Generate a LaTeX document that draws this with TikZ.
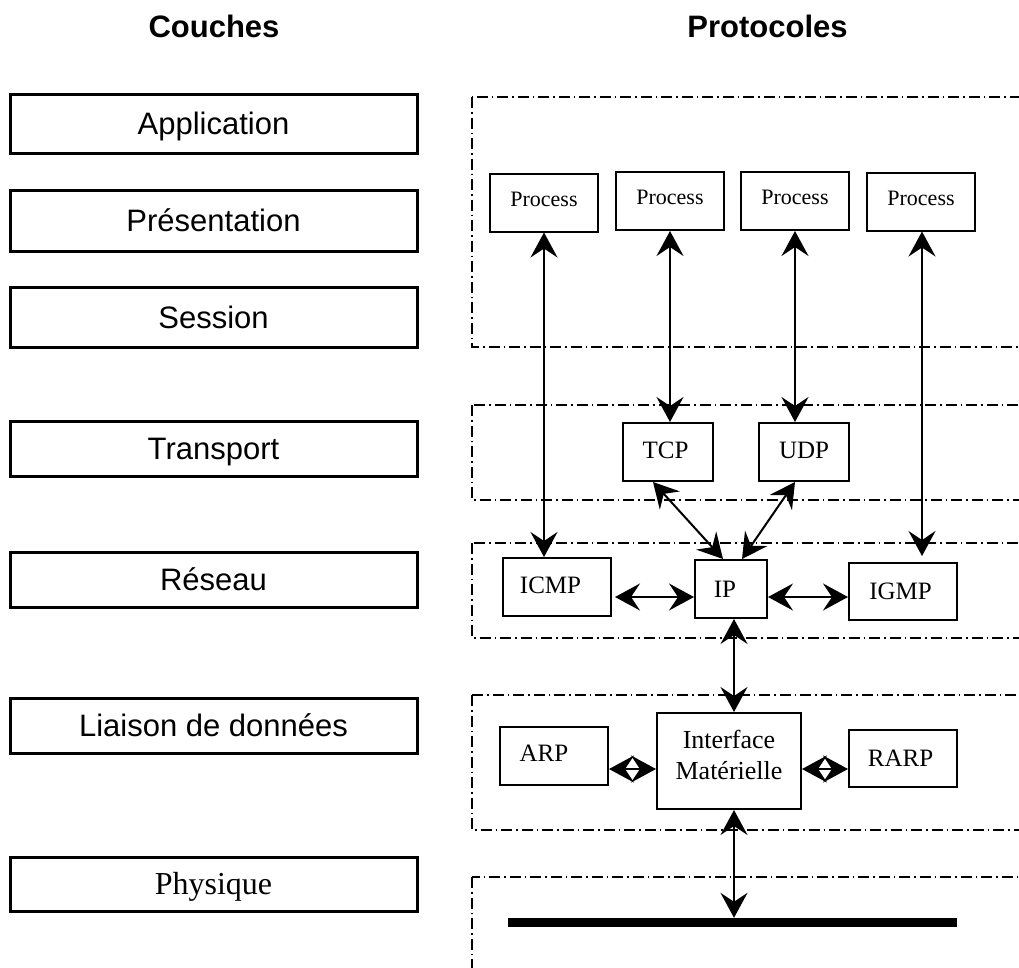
\documentclass[tikz,border=0pt]{standalone}
\usepackage{fontspec}
\setmainfont{Liberation Serif}
\setsansfont{Liberation Sans}
\usetikzlibrary{arrows.meta}

\tikzset{
  layerbox/.style={draw, line width=3pt, minimum width=407pt, inner sep=0pt,
    font=\sffamily\fontsize{31}{37}\selectfont, text height=22pt, text depth=0pt},
  protobox/.style={draw, line width=2pt, inner sep=0pt,
    font=\fontsize{25}{30}\selectfont, text height=16.5pt, text depth=0pt},
  procbox/.style={protobox, minimum width=108pt, minimum height=58pt,
    font=\fontsize{22}{26}\selectfont, text height=14.6pt, text depth=7pt},
  header/.style={inner sep=0pt, font=\sffamily\bfseries\fontsize{31}{37}\selectfont,
    text height=22pt, text depth=0pt},
  nudge/.style={execute at begin node={\hspace*{#1}}},
  frame/.style={line width=1.1pt, dash pattern=on 11pt off 4pt on 1.5pt off 4pt},
  tip/.tip={Stealth[length=25pt,width=27pt,inset=9pt]},
  link/.style={line width=2pt, tip-tip}
}

\begin{document}
\begin{tikzpicture}[x=1pt,y=-1pt]
\clip (0,0) rectangle (1019,967);

% column headings
\node[header] (hcouches) at (214,26) {Couches};
\node[header] (hproto) at (767.5,26) {Protocoles};

% OSI layers
\node[layerbox, minimum height=59pt] (app)  at (213.5,123.5) {Application};
\node[layerbox, minimum height=61pt] (pres) at (213.5,220.5) {Présentation};
\node[layerbox, minimum height=60pt] (sess) at (213.5,317) {Session};
\node[layerbox, minimum height=55pt] (trans) at (213.5,448.5) {Transport};
\node[layerbox, minimum height=55pt] (res)  at (213.5,579.5) {Réseau};
\node[layerbox, minimum height=55pt] (liai) at (213.5,725.5) {Liaison de données};
\node[layerbox, minimum height=54pt, font=\rmfamily\fontsize{32}{38}\selectfont,
      text height=21pt] (phys) at (213.5,884) {Physique};

% dash-dotted layer frames on the protocol side
\draw[frame] (472,97)  rectangle (1060,347);
\draw[frame] (472,405) rectangle (1060,500);
\draw[frame] (472,543) rectangle (1060,638);
\draw[frame] (472,695) rectangle (1060,830);
\draw[frame] (472,877) rectangle (1060,1000);

% application processes
\node[procbox] (p1) at (544,202.5) {Process};
\node[procbox] (p2) at (670,201) {Process};
\node[procbox] (p3) at (795,201) {Process};
\node[procbox] (p4) at (921,201.5) {Process};

% transport
\node[protobox, minimum width=90pt, minimum height=58pt, nudge=-5pt, text depth=4pt] (tcp) at (668,452) {TCP};
\node[protobox, minimum width=90pt, minimum height=58pt, text depth=4pt] (udp) at (804,452) {UDP};

% network
\node[protobox, minimum width=108pt, minimum height=58pt, nudge=-13pt, text depth=4pt] (icmp) at (557,587) {ICMP};
\node[protobox, minimum width=72pt, minimum height=58pt, nudge=-12pt] (ip) at (731,589) {IP};
\node[protobox, minimum width=108pt, minimum height=57pt, nudge=-5pt] (igmp) at (903,591.5) {IGMP};

% data link
\node[protobox, minimum width=108pt, minimum height=58pt, nudge=-20pt, text depth=6pt] (arp) at (554,756) {ARP};
\node[protobox, minimum width=144pt, minimum height=96pt] (iface) at (729,761) {};
\node[inner sep=0pt, align=center, font=\fontsize{26}{31}\selectfont, yshift=6pt] (ifacetxt) at (iface.center) {Interface\\Matérielle};
\node[protobox, minimum width=108pt, minimum height=57pt, nudge=-5pt] (rarp) at (903,758.5) {RARP};

% physical medium
\node[fill=black, inner sep=0pt, minimum width=449pt, minimum height=9pt] (bus) at (732.5,922.5) {};

% links between protocols
\draw[link] (p1.south) -- (p1.south |- icmp.north);
\draw[link] (p2.south) -- (p2.south |- tcp.north);
\draw[link] (p3.south) -- (p3.south |- udp.north);
\draw[link] ([xshift=1pt]p4.south) -- ([xshift=1pt,yshift=6pt]p4.south |- igmp.north);
\draw[link] ([xshift=-15pt]tcp.south) -- ([xshift=-8pt]ip.north);
\draw[link] ([xshift=-9pt]udp.south) -- ([xshift=11pt]ip.north);
\draw[link] ([xshift=3pt,yshift=-10pt]icmp.east) -- ([yshift=-10pt]icmp.east -| ip.west);
\draw[link] ([yshift=-8pt]ip.east) -- ([yshift=-8pt]ip.east -| igmp.west);
\draw[link] ([xshift=3pt]ip.south) -- ([xshift=3pt]ip.south |- iface.north);
\draw[link] ([yshift=-13pt]arp.east) -- ([yshift=-13pt]arp.east -| iface.west);
\draw[link] ([yshift=-8pt]iface.east) -- ([yshift=-8pt]iface.east -| rarp.west);
\draw[link] ([xshift=5pt]iface.south) -- ([xshift=5pt]iface.south |- bus.north);
\end{tikzpicture}
\end{document}
